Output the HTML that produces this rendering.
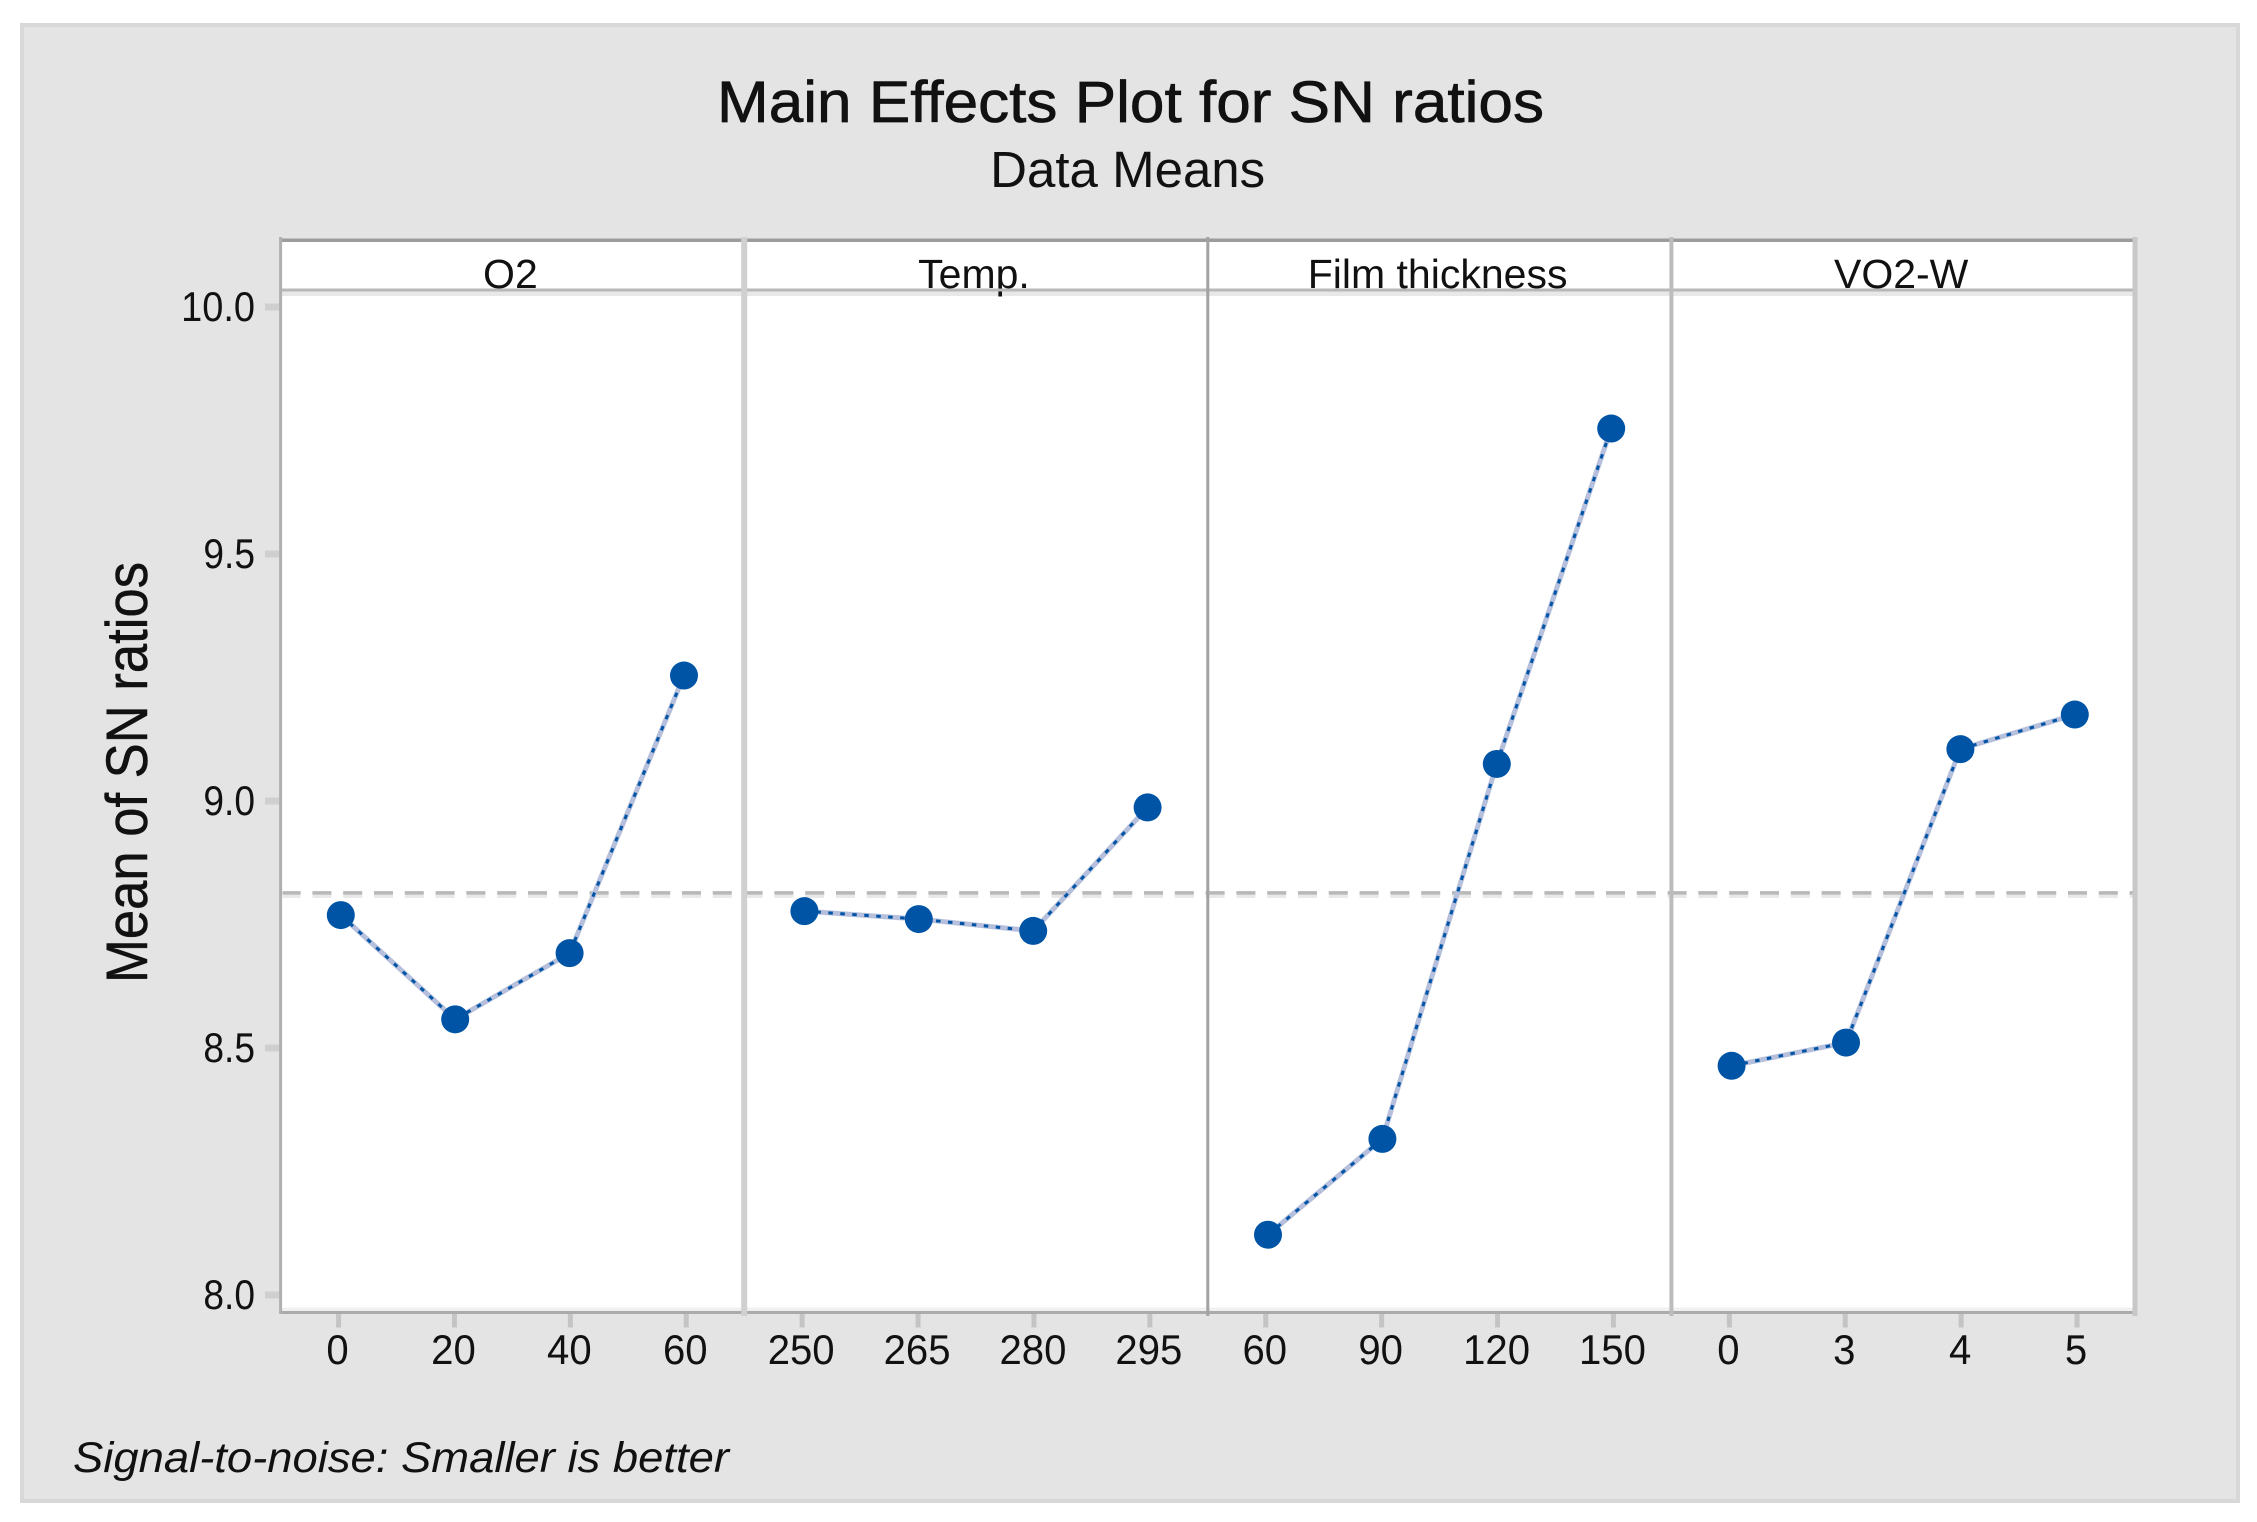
<!DOCTYPE html>
<html lang="en">
<head>
<meta charset="utf-8">
<title>Main Effects Plot for SN ratios</title>
<style>
html,body{margin:0;padding:0;background:#fff;}
svg{display:block;}
text{font-family:"Liberation Sans",sans-serif;fill:#111;}
</style>
</head>
<body>
<svg id="chart" xmlns="http://www.w3.org/2000/svg" width="2257" height="1522" viewBox="0 0 2257 1522">
  <rect x="22" y="25" width="2216" height="1476" fill="#e4e4e4" stroke="#d8d8d8" stroke-width="4"/>
  <rect x="281" y="240" width="1854" height="1073" fill="#ffffff"/>
  <text x="1130.5" y="122" font-size="58.6" text-anchor="middle" textLength="827" lengthAdjust="spacingAndGlyphs" stroke="#111" stroke-width="0.7">Main Effects Plot for SN ratios</text>
  <text x="1127.7" y="187" font-size="51" text-anchor="middle" textLength="275" lengthAdjust="spacingAndGlyphs" fill="#222">Data Means</text>
  <text transform="translate(147 772.5) rotate(-90)" font-size="58" text-anchor="middle" textLength="421" lengthAdjust="spacingAndGlyphs" stroke="#111" stroke-width="0.5">Mean of SN ratios</text>
  <text x="73" y="1472" font-size="43" font-style="italic" textLength="656" lengthAdjust="spacingAndGlyphs" fill="#222">Signal-to-noise: Smaller is better</text>
  <g id="layer"></g>
</svg>
<script>
const factorNames = ["O2", "Temp.", "Film thickness", "VO2-W"];
const levelsO2 = ["0", "20", "40", "60"];
const levelsTemp = ["250", "265", "280", "295"];
const levelsFilm = ["60", "90", "120", "150"];
const levelsVO2W = ["0", "3", "4", "5"];
const valuesO2 = [8.769, 8.558, 8.692, 9.254];
const valuesTemp = [8.777, 8.761, 8.737, 8.987];
const valuesFilm = [8.122, 8.316, 9.075, 9.754];
const valuesVO2W = [8.464, 8.511, 9.105, 9.175];
const yTickValues = [8.0, 8.5, 9.0, 9.5, 10.0];
const yTickLabels = ["8.0", "8.5", "9.0", "9.5", "10.0"];
const overallMean = 8.814;

const allLevels = [levelsO2, levelsTemp, levelsFilm, levelsVO2W];
const allValues = [valuesO2, valuesTemp, valuesFilm, valuesVO2W];

const SVGNS = "http://www.w3.org/2000/svg";
const layer = document.getElementById("layer");
const plotLeft = 280.6, plotRight = 2135, plotTop = 240, stripBottom = 290, plotBottom = 1312.5;
const panelWidth = (plotRight - plotLeft) / factorNames.length;

function yScale(v) { return 307 + (10 - v) * 494; }
function panelLeft(p) { return plotLeft + p * panelWidth; }
function panelCenter(p) { return panelLeft(p) + panelWidth / 2; }
function tickX(p, i) { return panelLeft(p) + (i + 0.5) * panelWidth / 4; }
function pointX(p, i) { return panelCenter(p) + (i - 1.5) * 114.4; }
function labelWidth(s) {
  let w = 0;
  for (const c of s) { w += c === "." ? 7 : 22.3; }
  return w;
}
function make(tag, attrs) {
  const el = document.createElementNS(SVGNS, tag);
  for (const k in attrs) { el.setAttribute(k, attrs[k]); }
  layer.appendChild(el);
  return el;
}

// overall mean reference line
const refHalo = make("line", {x1: plotLeft + 2, x2: plotRight - 2, y1: yScale(overallMean) + 2, y2: yScale(overallMean) + 2, stroke: "#e8e8e8", "stroke-width": 6, "stroke-dasharray": "19 11.8", "stroke-dashoffset": 1});


const refLine = make("line", {x1: plotLeft + 2, x2: plotRight - 2, y1: yScale(overallMean), y2: yScale(overallMean), stroke: "#b8b8b8", "stroke-width": 3.5, "stroke-dasharray": "19 11.8", "stroke-dashoffset": 1});



// frame
const stripShadow = make("rect", {x: plotLeft, y: stripBottom, width: plotRight - plotLeft, height: 6, fill: "#e8e8e8"});


const bottomShadow = make("rect", {x: plotLeft, y: plotBottom - 5, width: plotRight - plotLeft, height: 5, fill: "#f0f0f0"});



// y ticks
yTickValues.forEach(function (v, i) {
  const t = make("rect", {x: 265, y: yScale(v) - 3.5, width: 15, height: 7, fill: "#cfcfcf"});
  
  
  const s = yTickLabels[i];
  const l = make("text", {x: 255, y: yScale(v) + 14, "font-size": 42, "text-anchor": "end", textLength: labelWidth(s), lengthAdjust: "spacingAndGlyphs"});
  l.textContent = s;
  
  
});

// panels
const dividerWidths = [6, 3, 4, 5];
const dividerColors = ["#d0d0d0", "#a2a2a2", "#bcbcbc", "#c8c8c8"];
factorNames.forEach(function (name, p) {
  const strip = make("text", {x: panelCenter(p) - 2, y: 288, "font-size": 41, "text-anchor": "middle", fill: "#222"});
  strip.textContent = name;
  
  

  allLevels[p].forEach(function (lab, i) {
    const tk = make("rect", {x: tickX(p, i) - 2.5, y: plotBottom, width: 5, height: 15, fill: "#c4c4c4"});
    
    
    const tx = make("text", {x: tickX(p, i) - 1, y: 1364, "font-size": 42, "text-anchor": "middle", textLength: labelWidth(lab), lengthAdjust: "spacingAndGlyphs"});
    tx.textContent = lab;
    
    
  });

  const vals = allValues[p];
  const pts = vals.map(function (v, i) { return pointX(p, i) + "," + yScale(v); }).join(" ");
  const halo = make("polyline", {points: pts, fill: "none", stroke: "#b6c0dc", "stroke-width": 5});
  
  
  const line = make("polyline", {points: pts, fill: "none", stroke: "#0054a6", "stroke-width": 3, "stroke-dasharray": "4.5 7.5"});
  
  
  vals.forEach(function (v, i) {
    const c = make("circle", {cx: pointX(p, i), cy: yScale(v), r: 14, fill: "#0054a6"});
    
    
  });
});

// frame lines on top
const topLine = make("rect", {x: plotLeft, y: 238.5, width: plotRight - plotLeft, height: 3.5, fill: "#9c9c9c"});


const stripLine = make("rect", {x: plotLeft, y: 288.5, width: plotRight - plotLeft, height: 3, fill: "#b8b8b8"});


const bottomLine = make("rect", {x: plotLeft, y: 1311, width: plotRight - plotLeft, height: 3, fill: "#ababab"});


const leftLine = make("rect", {x: plotLeft - 1.5, y: 237, width: 3, height: 1077, fill: "#b0b0b0"});


factorNames.forEach(function (name, p) {
  const w = dividerWidths[p];
  const d = make("rect", {x: panelLeft(p + 1) - w / 2, y: 237, width: w, height: 1079, fill: dividerColors[p]});
  
  
});
</script>
</body>
</html>
